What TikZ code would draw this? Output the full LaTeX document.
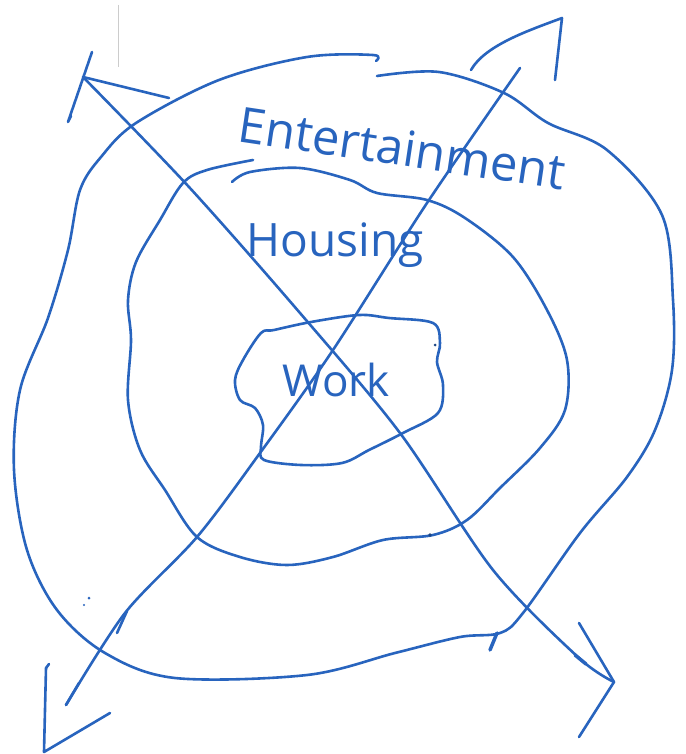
\documentclass[tikz,border=0pt]{standalone}
\usepackage{fontspec}
\setmainfont{Open Sans}
\definecolor{ink}{RGB}{40,100,190}
\tikzset{
  pen/.style={draw=ink, line width=2.6pt, line cap=round, line join=round},
  label/.style={text=ink, inner sep=0pt},
}
\begin{document}
\begin{tikzpicture}[x=1pt,y=-1pt]
\fill[white] (0,0) rectangle (685,754);
\useasboundingbox (0,0) rectangle (685,754);
% scan artefact
\draw[gray!40, line width=1pt] (118,5) -- (118,67);
% outer ring (Entertainment)
\draw[pen] plot[smooth, tension=0.55] coordinates {(377,76) (439,72) (504,93) (548,123) (607,150) (662,215) (673,300) (672,370) (655,430) (627,477) (580,533) (523,613) (500,633) (460,637) (395,653) (307,675) (175,678) (105,653) (57,610) (27,550) (14,470) (20,390) (48,318) (68,250) (80,190) (101,157) (136,123) (219,80) (307,57) (373,55) (376,61)};
% middle ring (Housing)
\draw[pen] plot[smooth, tension=0.55] coordinates {(232,182) (250,172) (300,168) (350,180) (377,193) (427,200) (465,218) (513,257) (547,310) (567,360) (565,410) (540,448) (500,488) (467,520) (433,535) (383,540) (333,557) (287,565) (240,557) (197,537) (165,490) (140,450) (128,400) (131,340) (128,300) (136,262) (160,220) (183,183) (207,170) (253,160)};
% inner blob (Work)
\draw[pen] plot[smooth cycle, tension=0.55] coordinates {(261,333) (274,330) (311,322) (359,315) (389,318) (433,323) (440,343) (437,362) (443,385) (438,413) (403,433) (369,450) (342,463) (301,465) (264,460) (261,447) (263,425) (255,408) (240,400) (235,380) (243,360)};
% end points of the diagonals
\coordinate (tl) at (83,77);
\coordinate (br) at (614,682);
\coordinate (tr) at (520,68);
\coordinate (bl) at (66,705);
% diagonal top-left to bottom-right
\draw[pen] (tl) -- plot[smooth, tension=0.5] coordinates {(83,77) (189,187) (300,313) (400,433) (493,570) (579,658) (614,682)} -- (br);
% diagonal top-right to bottom-left
\draw[pen] (tr) -- plot[smooth, tension=0.5] coordinates {(520,68) (427,203) (333,350) (260,453) (197,537) (125,613) (66,705)} -- (bl);
% arrowheads
\draw[pen] (92,52) -- (68,122) -- (71,116);
\draw[pen] (tl) -- (169,98);
\draw[pen] (471,70) .. controls (485,45) and (530,30) .. (562,18) -- (555,80);
\draw[pen] (579,623) -- (br) -- (579,737);
\draw[pen] (46,668) -- (44,752) -- (110,713);
\draw[pen] (49,664) -- (46,668);
\draw[pen] (127,611) -- (117,633);
\draw[pen] (bl) -- (79,683);
\draw[pen, line width=3.5pt] (575,655) -- (586,664);
\draw[pen, line width=3.5pt] (497,633) -- (490,650);
% specks
\fill[ink] (89,598) circle (1.5);
\fill[ink] (84,605) circle (1.2);
\fill[ink!70!black] (430,535) circle (1.8);
\fill[ink!70!black] (435,345) circle (1.5);
% labels
\node[label, font=\fontsize{49}{49}\selectfont, rotate=-8.5] (ent) at (402,148) {Entertainment};
\node[label, font=\fontsize{46}{46}\selectfont] (hou) at (335,245) {Housing};
\node[label, font=\fontsize{44}{44}\selectfont] (work) at (336,380) {Work};
\end{tikzpicture}
\end{document}
